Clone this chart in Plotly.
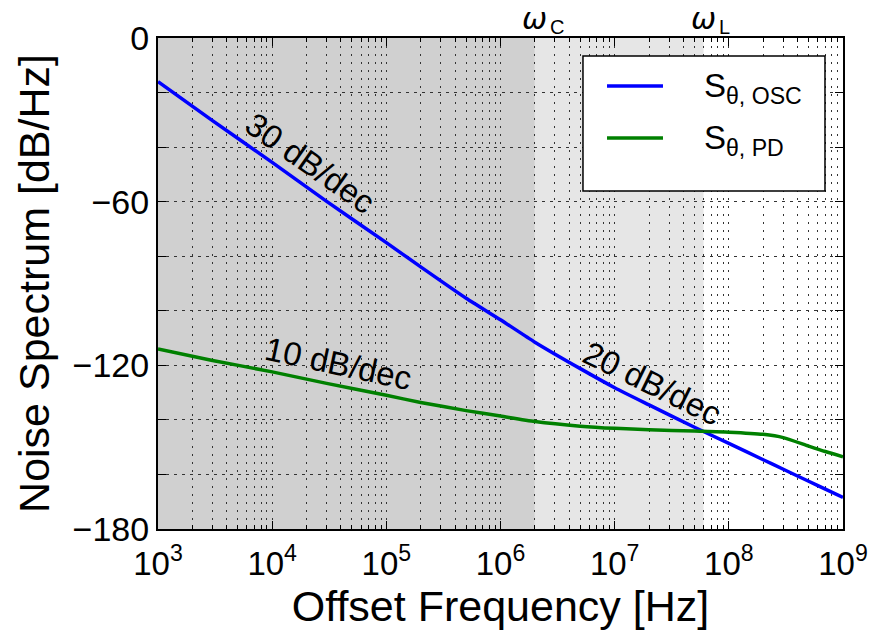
import math
import plotly.graph_objects as go

# ---- data ----
freq_hz = [1e3, 3e3, 1e4, 3e4, 1e5, 2e5, 5e5, 1e6, 2e6, 5e6, 1e7, 2e7, 5e7, 1e8, 2e8, 3e8, 5e8, 7e8, 1e9]
s_osc_db = [-16.0, -30.3, -45.6, -59.9, -75.0, -83.9, -95.4, -103.3, -111.5, -121.2, -128.2,
            -134.5, -142.7, -148.6, -154.6, -158.1, -162.5, -165.4, -168.4]
s_pd_db = [-114.0, -118.2, -122.4, -126.6, -131.0, -133.6, -136.6, -138.6, -140.6, -142.3,
           -143.1, -143.6, -144.1, -144.5, -145.3, -146.5, -149.6, -151.6, -153.5]

omega_c_hz = 2e6
omega_l_hz = 6e7
x_range_hz = (1e3, 1e9)
y_range_db = (-180, 0)

x_tick_exps = [3, 4, 5, 6, 7, 8, 9]
y_tick_vals = [-180, -160, -140, -120, -100, -80, -60, -40, -20, 0]
y_tick_labels = ["\u2212180", "", "", "\u2212120", "", "", "\u221260", "", "", "0"]

series_names = ["S<sub>\u03b8, OSC</sub>", "S<sub>\u03b8, PD</sub>"]
series_colors = ["#0000ff", "#008000"]

FONT = "Liberation Sans, Arial, sans-serif"
MATH_FONT = "DejaVu Sans"

fig = go.Figure()
for name, vals, col in zip(series_names, [s_osc_db, s_pd_db], series_colors):
    fig.add_trace(go.Scatter(
        x=freq_hz, y=vals, mode="lines", name=name, showlegend=False,
        line=dict(color=col, width=3.5, shape="spline", smoothing=0.6),
    ))

# shaded regions
fig.add_shape(type="rect", xref="x", yref="paper", x0=x_range_hz[0], x1=omega_c_hz,
              y0=0, y1=1, fillcolor="#d0d0d0", line_width=0, layer="below")
fig.add_shape(type="rect", xref="x", yref="paper", x0=omega_c_hz, x1=omega_l_hz,
              y0=0, y1=1, fillcolor="#e6e6e6", line_width=0, layer="below")

minor_vals = [k * 10 ** e for e in x_tick_exps[:-1] for k in range(2, 10)]

fig.update_xaxes(
    type="log", range=[math.log10(x_range_hz[0]), math.log10(x_range_hz[1])],
    tickvals=[10 ** e for e in x_tick_exps],
    ticktext=[f"10<sup>{e}</sup>" for e in x_tick_exps],
    ticks="inside", ticklen=8, tickwidth=1, tickcolor="black",
    showline=True, linecolor="black", linewidth=2, mirror="ticks",
    showgrid=True, gridcolor="#333333", gridwidth=1, griddash="2px,6px",
    minor=dict(tickvals=minor_vals, ticks="inside", ticklen=4, tickcolor="black",
               showgrid=True, gridcolor="#333333", gridwidth=1, griddash="2px,6px"),
    tickfont=dict(family=FONT, size=33, color="black"),
    ticklabelstandoff=4,
    title=dict(text="Offset Frequency [Hz]", font=dict(family=FONT, size=43, color="black"),
               standoff=10),
    zeroline=False, automargin=False,
)
fig.update_yaxes(
    range=list(y_range_db), tickvals=y_tick_vals, ticktext=y_tick_labels,
    ticks="inside", ticklen=8, tickwidth=1, tickcolor="black",
    showline=True, linecolor="black", linewidth=2, mirror="ticks",
    showgrid=True, gridcolor="#333333", gridwidth=1, griddash="3px,5px",
    tickfont=dict(family=FONT, size=34, color="black"),
    title=dict(text="Noise Spectrum [dB/Hz]", font=dict(family=FONT, size=43, color="black"),
               standoff=10),
    zeroline=False, automargin=False,
)

ann_font = dict(family=FONT, size=33, color="black")
fig.add_annotation(x=4.34, y=-45.9, text="30 dB/dec", showarrow=False, textangle=35, font=ann_font)
fig.add_annotation(x=4.58, y=-119.4, text="10 dB/dec", showarrow=False, textangle=12, font=ann_font)
fig.add_annotation(x=7.335, y=-126.7, text="20 dB/dec", showarrow=False, textangle=26, font=ann_font)

# corner-frequency labels above the plot
for f_corner, sub in [(omega_c_hz, "C"), (omega_l_hz, "L")]:
    fig.add_annotation(x=math.log10(f_corner), y=1.0774, yref="paper", yanchor="top",
                       text="<i>\u03c9</i>", showarrow=False, borderpad=0,
                       font=dict(family=MATH_FONT, size=30, color="black"))
    fig.add_annotation(x=math.log10(f_corner), y=1.0234, yref="paper", yanchor="middle",
                       xanchor="left", xshift=13,
                       text=sub, showarrow=False,
                       font=dict(family=FONT, size=20, color="black"))

# legend box (drawn in paper coordinates)
leg_x0, leg_x1, leg_y0, leg_y1 = 0.6204, 0.9737, 0.6884, 0.9633
fig.add_shape(type="rect", xref="paper", yref="paper", x0=leg_x0, x1=leg_x1, y0=leg_y0, y1=leg_y1,
              fillcolor="white", line=dict(color="black", width=1.5), layer="above")
for name, col, ly in zip(series_names, series_colors, [0.9022, 0.7963]):
    fig.add_shape(type="line", xref="paper", yref="paper", x0=0.6555, x1=0.7372, y0=ly, y1=ly,
                  line=dict(color=col, width=3.5), layer="above")
    fig.add_annotation(x=0.794, y=ly - 0.004, xref="paper", yref="paper", xanchor="left",
                       yanchor="middle", text=name, showarrow=False,
                       font=dict(family=FONT, size=33, color="black"))

fig.update_layout(
    width=869, height=641,
    margin=dict(l=158, r=26, t=38, b=112, autoexpand=False),
    paper_bgcolor="white", plot_bgcolor="white",
    font=dict(family=FONT, color="black"),
    showlegend=False,
)

fig.write_html("out.html", config={"displayModeBar": False},
               post_script="document.body.style.margin='0';document.body.style.overflow='hidden';")
